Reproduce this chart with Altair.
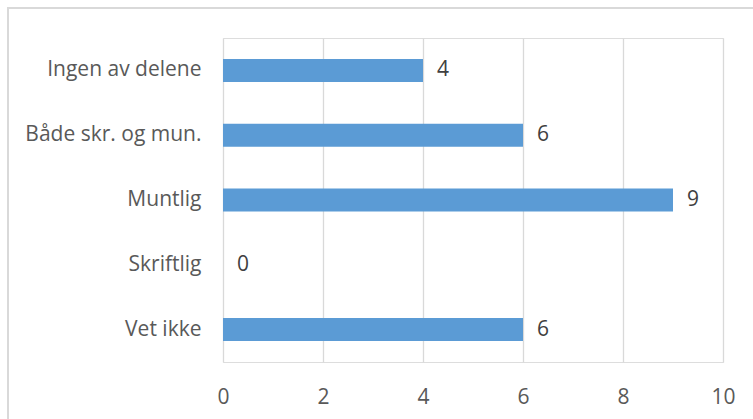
import altair as alt
import pandas as pd

categories = ["Ingen av delene", "Både skr. og mun.", "Muntlig", "Skriftlig", "Vet ikke"]
values = [4, 6, 9, 0, 6]
x_ticks = [0, 2, 4, 6, 8, 10]

df = pd.DataFrame({"kategori": categories, "antall": values})

FONT = "Open Sans"
TXT = "#595959"
GRID = "#d9d9d9"
FS = 21

x = alt.X("antall:Q",
          scale=alt.Scale(domain=[0, 10], nice=False),
          axis=alt.Axis(values=x_ticks, title=None, grid=True, gridColor=GRID, gridWidth=1.3,
                        domain=False, ticks=False, labelFont=FONT, labelFontSize=FS,
                        labelColor=TXT, labelPadding=24, labelFlush=False))
y = alt.Y("kategori:N", sort=categories,
          axis=alt.Axis(title=None, domain=False, ticks=False, labelFont=FONT,
                        labelFontSize=FS, labelColor=TXT, labelPadding=22))

bars = alt.Chart(df).mark_bar(color="#5B9BD5", size=23).encode(x=x, y=y)
labels = alt.Chart(df).mark_text(align="left", baseline="middle", dx=14, font=FONT,
                                 fontSize=FS, color="#404040").encode(
    x="antall:Q", y=alt.Y("kategori:N", sort=categories), text="antall:Q")

frame = alt.Chart(df).mark_rect(fill=None, stroke=GRID, strokeWidth=2).encode(
    x=alt.value(-215), x2=alt.value(560), y=alt.value(-30), y2=alt.value(420))

chart = alt.layer(frame, bars, labels).properties(
    width=500, height=324,
    padding={"left": 223, "top": 38, "right": 30, "bottom": 57},
    autosize=alt.AutoSizeParams(type="none"),
).configure_view(stroke=None).configure(background="white")

chart.save("out.html", embed_options={"renderer": "svg", "actions": False})
